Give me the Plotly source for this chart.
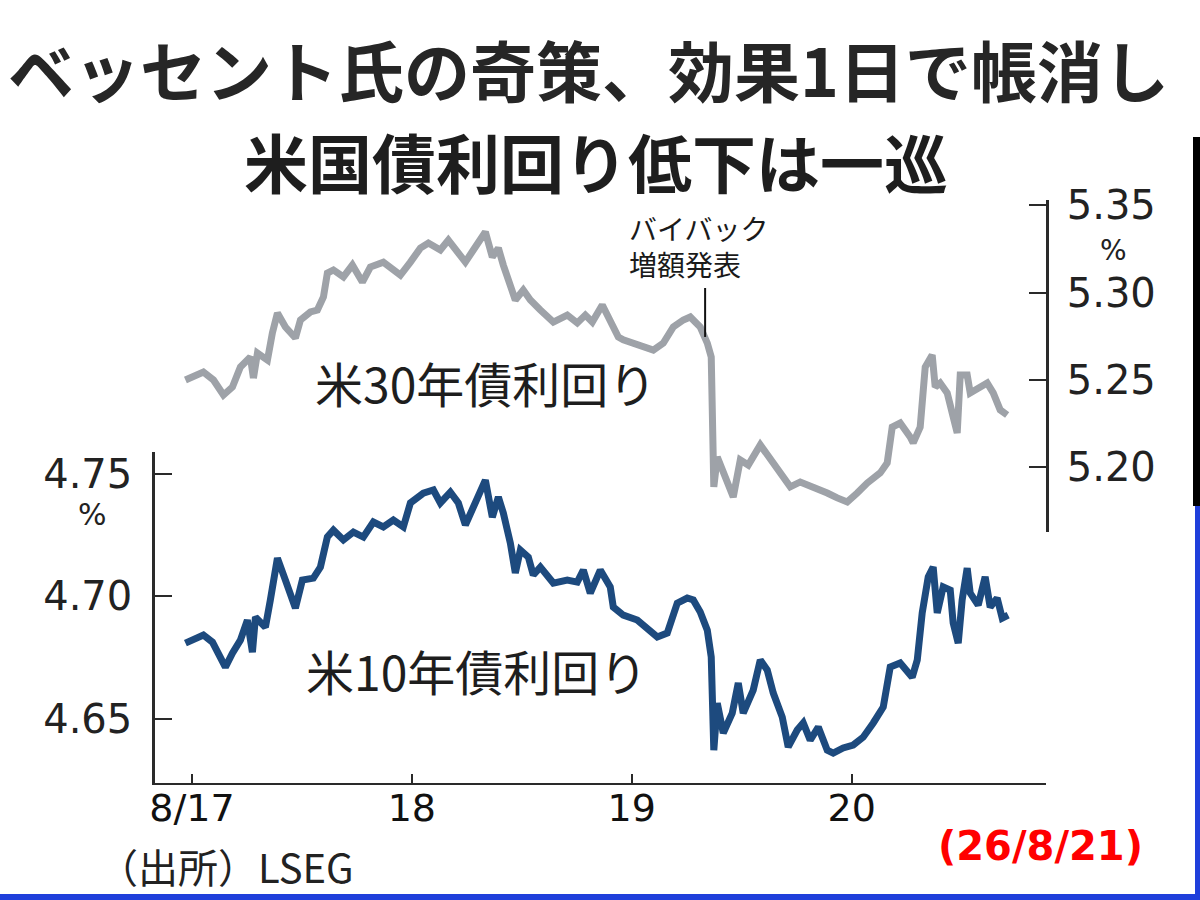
import pandas as pd
import plotly.graph_objects as go

# ---------------- data ----------------
base_day = "2026-08-17"
tick_days = ["2026-08-17", "2026-08-18", "2026-08-19", "2026-08-20"]
tick_labels = ["8/17", "18", "19", "20"]

# US 30-year yield: hours since 8/17 00:00 and yield (%)
hours_30y = [-0.71, 1.25, 2.35, 3.44, 4.42, 5.29, 6.38, 6.71, 7.15, 8.24, 8.78, 9.33, 10.20, 11.29,
             11.84, 12.93, 13.69, 14.35, 14.78, 15.44, 16.53, 17.51, 18.60, 19.47, 20.89, 22.75,
             23.84, 24.93, 25.80, 27.11, 27.98, 29.07, 29.84, 30.71, 32.02, 32.78, 33.44, 33.98,
             34.75, 35.29, 36.16, 36.93, 38.02, 39.44, 40.96, 42.05, 42.93, 43.69, 44.78, 45.65,
             46.53, 47.07, 48.16, 49.25, 50.35, 51.44, 52.53, 53.62, 54.38, 55.47, 56.24, 56.67,
             56.84, 56.95, 57.33, 57.98, 59.07, 59.84, 60.71, 62.02, 63.11, 64.20, 65.29, 66.38,
             67.80, 69.33, 70.42, 71.51, 72.60, 73.69, 75.11, 75.87, 76.42, 77.29, 78.38, 78.71,
             79.47, 80.02, 80.78, 81.11, 81.65, 82.42, 83.07, 83.51, 83.84, 84.60, 84.93, 86.02,
             86.78, 87.44, 88.20, 88.96]
yield_30y = [5.2500, 5.2546, 5.2500, 5.2414, 5.2460, 5.2574, 5.2631, 5.2511, 5.2654, 5.2614, 5.2769,
             5.2883, 5.2803, 5.2740, 5.2843, 5.2889, 5.2900, 5.2974, 5.3111, 5.3129, 5.3089, 5.3157,
             5.3060, 5.3146, 5.3174, 5.3100, 5.3174, 5.3254, 5.3283, 5.3243, 5.3300, 5.3226, 5.3174,
             5.3243, 5.3346, 5.3203, 5.3254, 5.3157, 5.3054, 5.2957, 5.3014, 5.2957, 5.2900, 5.2831,
             5.2871, 5.2826, 5.2871, 5.2831, 5.2929, 5.2843, 5.2746, 5.2730, 5.2711, 5.2700, 5.2671,
             5.2711, 5.2803, 5.2843, 5.2860, 5.2803, 5.2711, 5.2631, 5.2311, 5.1889, 5.2060, 5.1969,
             5.1831, 5.2043, 5.2014, 5.2129, 5.2043, 5.1969, 5.1889, 5.1917, 5.1889, 5.1854, 5.1826,
             5.1803, 5.1854, 5.1911, 5.1969, 5.2026, 5.2231, 5.2254, 5.2174, 5.2140, 5.2231, 5.2574,
             5.2643, 5.2460, 5.2483, 5.2426, 5.2289, 5.2197, 5.2529, 5.2529, 5.2426, 5.2460, 5.2483,
             5.2426, 5.2329, 5.2300]

# US 10-year yield
hours_10y = [-0.71, 0.16, 1.25, 2.24, 3.11, 3.65, 4.42, 5.29, 6.05, 6.60, 6.93, 8.02, 8.56, 9.33,
             10.20, 11.29, 12.05, 13.25, 14.02, 14.78, 15.44, 16.53, 17.62, 18.71, 19.80, 20.89,
             21.98, 23.07, 23.84, 25.25, 26.35, 27.11, 28.20, 29.07, 29.84, 30.71, 32.02, 32.78,
             33.44, 33.98, 34.75, 35.29, 35.84, 36.71, 37.25, 38.02, 39.44, 40.96, 42.05, 42.71,
             43.47, 44.56, 45.65, 45.98, 47.07, 48.60, 49.69, 50.78, 51.87, 52.96, 54.05, 54.71,
             55.47, 56.24, 56.67, 56.84, 56.95, 57.33, 57.98, 58.96, 59.62, 60.16, 61.25, 62.02,
             62.78, 63.44, 64.42, 65.07, 66.05, 66.71, 67.47, 68.35, 69.33, 69.98, 71.07, 72.16,
             73.25, 74.35, 75.44, 76.20, 77.29, 78.60, 79.15, 79.69, 80.35, 80.89, 81.33, 81.98,
             82.75, 83.07, 83.62, 84.05, 84.60, 84.93, 85.80, 86.56, 87.11, 87.87, 88.42, 89.07]
yield_10y = [4.6808, 4.6820, 4.6841, 4.6812, 4.6739, 4.6710, 4.6767, 4.6820, 4.6902, 4.6771, 4.6914,
             4.6873, 4.6984, 4.7155, 4.7065, 4.6951, 4.7065, 4.7073, 4.7118, 4.7241, 4.7269, 4.7229,
             4.7261, 4.7241, 4.7302, 4.7282, 4.7310, 4.7282, 4.7380, 4.7420, 4.7433, 4.7380, 4.7424,
             4.7380, 4.7290, 4.7359, 4.7473, 4.7322, 4.7404, 4.7339, 4.7216, 4.7094, 4.7188, 4.7159,
             4.7086, 4.7118, 4.7053, 4.7065, 4.7057, 4.7106, 4.7012, 4.7106, 4.7037, 4.6955, 4.6922,
             4.6902, 4.6869, 4.6833, 4.6849, 4.6971, 4.6992, 4.6984, 4.6935, 4.6861, 4.6751, 4.6547,
             4.6371, 4.6563, 4.6441, 4.6522, 4.6645, 4.6522, 4.6616, 4.6739, 4.6698, 4.6604, 4.6506,
             4.6384, 4.6453, 4.6482, 4.6412, 4.6465, 4.6371, 4.6359, 4.6380, 4.6392, 4.6424, 4.6482,
             4.6547, 4.6710, 4.6727, 4.6669, 4.6739, 4.6931, 4.7078, 4.7118, 4.6931, 4.7037, 4.7024,
             4.6890, 4.6808, 4.6984, 4.7114, 4.7012, 4.6963, 4.7078, 4.6955, 4.6992, 4.6910, 4.6922]

ticks_10y = [4.65, 4.70, 4.75]
ticks_30y = [5.20, 5.25, 5.30, 5.35]
buyback_hour = 56.0
buyback_span_30y = [5.2746, 5.3026]

# ---------------- layout helpers ----------------
W, H = 1200, 900
L, R, T, B = 155, 1046, 200, 783   # plot area, in page pixels


def px(xp):
    return (xp - L) / (R - L)


def py(yp):
    return (B - yp) / (B - T)


t0 = pd.Timestamp(base_day)
x30 = t0 + pd.to_timedelta(hours_30y, unit="h")
x10 = t0 + pd.to_timedelta(hours_10y, unit="h")
x_range = [t0 + pd.Timedelta(hours=-4.03), t0 + pd.Timedelta(hours=93.2)]

JP = "Noto Sans CJK JP"
NUM = "DejaVu Sans"
GRAY = "#9ea2a8"
BLUE = "#1d4a7e"
AX = "#2a2a2a"

fig = go.Figure()
fig.add_trace(go.Scatter(x=x30, y=yield_30y, mode="lines", yaxis="y2",
                         line=dict(color=GRAY, width=7), showlegend=False))
fig.add_trace(go.Scatter(x=x10, y=yield_10y, mode="lines", yaxis="y",
                         line=dict(color=BLUE, width=7), showlegend=False))

fig.update_layout(
    width=W, height=H,
    margin=dict(l=L, r=W - R, t=T, b=H - B, pad=0),
    paper_bgcolor="white", plot_bgcolor="rgba(0,0,0,0)",
    showlegend=False,
    xaxis=dict(type="date", range=x_range, tickvals=[pd.Timestamp(d) for d in tick_days],
               ticktext=tick_labels, ticks="inside", ticklen=9, tickwidth=1.5, tickcolor=AX,
               showline=True, linecolor=AX, linewidth=2, showgrid=False, zeroline=False,
               tickfont=dict(family=NUM, size=38, color="#111"), ticklabelstandoff=-10),
    yaxis=dict(domain=[0, py(452)], range=[4.6237, 4.7588], tickvals=ticks_10y,
               ticktext=[f"{v:.2f}" for v in ticks_10y], ticks="inside", ticklen=17,
               tickwidth=1.5, tickcolor=AX, showline=True, linecolor=AX, linewidth=2.5,
               showgrid=False, zeroline=False, ticklabelstandoff=12,
               tickfont=dict(family=NUM, size=40, color="#222")),
    yaxis2=dict(domain=[py(532), 1], range=[5.1631, 5.3529], anchor="x", side="right",
                tickvals=ticks_30y, ticktext=[f"{v:.2f}" for v in ticks_30y], ticks="inside",
                ticklen=17, tickwidth=1.5, tickcolor=AX, showline=True, linecolor=AX,
                linewidth=2.5, showgrid=False, zeroline=False, ticklabelstandoff=10,
                tickfont=dict(family=NUM, size=40, color="#222")),
)

# announcement marker
fig.add_shape(type="line", xref="x", yref="y2",
              x0=t0 + pd.Timedelta(hours=buyback_hour), x1=t0 + pd.Timedelta(hours=buyback_hour),
              y0=buyback_span_30y[0], y1=buyback_span_30y[1], line=dict(color="#111", width=2))

ann = []


def text(s, xp, yp, size, color="#222", family=JP, xanchor="center", weight="normal", align="center"):
    ann.append(dict(text=s, x=px(xp), y=py(yp), xref="paper", yref="paper", showarrow=False,
                    xanchor=xanchor, yanchor="middle", align=align,
                    font=dict(family=family, size=size, color=color, weight=weight)))


text("ベッセント氏の奇策、効果1日で帳消し", 588, 68, 66, color="#262626", weight="bold")
text("米国債利回り低下は一巡", 596, 160, 64, color="#1e1e1e", weight="bold")
text("バイバック<br>増額発表", 627, 246, 28, xanchor="left", color="#1a1a1a", align="left")
text("米30年債利回り", 485, 382, 48, color="#1e1e1e")
text("米10年債利回り", 476, 670, 48, color="#1e1e1e")
text("%", 92, 514, 30, family=NUM)
text("%", 1113, 250, 28, family=NUM)
text("（出所）LSEG", 226, 866, 40, color="#222")
text("(26/8/21)", 1040, 846, 40, color="#ff0000", family=NUM, weight="bold")
fig.update_layout(annotations=ann)

# frame decorations at the right and bottom edges
deco = [
    dict(x0=1193, x1=1200, y0=137, y1=506, color="#000000"),
    dict(x0=1195, x1=1200, y0=506, y1=900, color="#1f3fdb"),
    dict(x0=0, x1=1200, y0=894, y1=900, color="#1f3fdb"),
]
for d in deco:
    fig.add_shape(type="rect", xref="paper", yref="paper", x0=px(d["x0"]), x1=px(d["x1"]),
                  y0=py(d["y1"]), y1=py(d["y0"]), fillcolor=d["color"], line=dict(width=0),
                  layer="above")

fig.write_html("out.html", config={"displayModeBar": False},
               post_script="document.body.style.margin='0';document.body.style.overflow='hidden';")
